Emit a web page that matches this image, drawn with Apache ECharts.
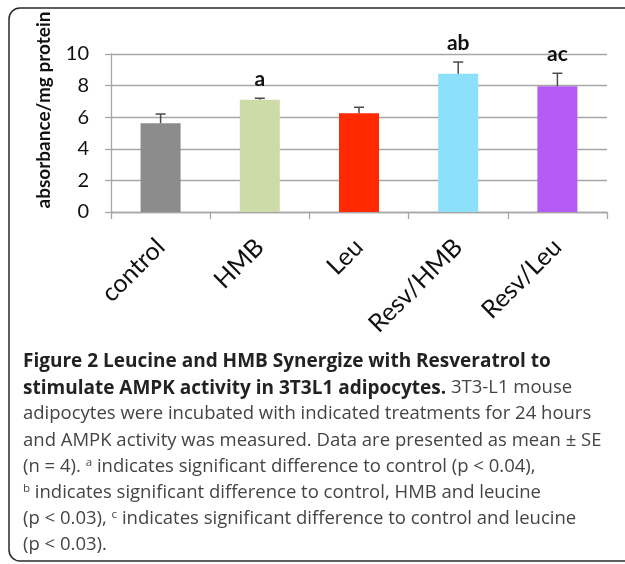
<!DOCTYPE html>
<html>
<head>
<meta charset="utf-8">
<script src="https://cdn.jsdelivr.net/npm/echarts@6/dist/echarts.min.js"></script>
<style>
html,body{margin:0;padding:0;background:#fff;}
#chart{width:625px;height:564px;}
</style>
</head>
<body>
<div id="chart"></div>
<script>
// ---- data ----
const categories = ['control', 'HMB', 'Leu', 'Resv/HMB', 'Resv/Leu'];
const means = [5.62, 7.1, 6.25, 8.75, 7.96];
const errors = [0.58, 0.1, 0.38, 0.74, 0.82];
const sigLabels = ['', 'a', '', 'ab', 'ac'];
const barColors = ['#8c8c8c', '#cddba8', '#ff2a00', '#8ce0fa', '#b35bf2'];
const yTicks = { min: 0, max: 10, interval: 2 };

const FONT = 'Lato';
const CAP_FONT = 'Open Sans';
const chart = echarts.init(document.getElementById('chart'));

const captionLines = [
  '{b|Figure 2 Leucine and HMB Synergize with Resveratrol to}',
  '{b|stimulate AMPK activity in 3T3L1 adipocytes.} 3T3-L1 mouse',
  'adipocytes were incubated with indicated treatments for 24 hours',
  'and AMPK activity was measured. Data are presented as mean ± SE',
  '(n = 4). {sup|a} indicates significant difference to control (p < 0.04),',
  '{sup|b} indicates significant difference to control, HMB and leucine',
  '(p < 0.03), {sup|c} indicates significant difference to control and leucine',
  '(p < 0.03).'
];

const graphics = [
  {
    type: 'rect', silent: true,
    shape: { x: 9, y: 8, width: 660, height: 553, r: 11 },
    style: { fill: 'none', stroke: '#2a2a2a', lineWidth: 1.5 }
  },
  {
    type: 'text', silent: true,
    x: 44, y: 110, rotation: Math.PI / 2,
    style: {
      text: 'absorbance/mg protein', fontFamily: FONT, fontWeight: 'bold',
      fontSize: 19, fill: '#111', align: 'center', verticalAlign: 'middle'
    }
  }
];
captionLines.forEach((t, i) => {
  graphics.push({
    type: 'text', silent: true,
    x: 23, y: 362 + i * 26.1,
    style: {
      text: t, fontFamily: CAP_FONT, fontSize: 18.5, fill: '#444',
      align: 'left', verticalAlign: 'middle',
      rich: {
        b: { fontFamily: CAP_FONT, fontSize: 19, fontWeight: 'bold', fill: '#222' },
        sup: { fontFamily: CAP_FONT, fontSize: 11.5, fill: '#444', verticalAlign: 'top', padding: [0, 0, 8, 0] }
      }
    }
  });
});

const option = {
  animation: false,
  backgroundColor: '#fff',
  grid: { left: 111, right: 18, top: 54, bottom: 352, containLabel: false },
  xAxis: {
    type: 'category',
    data: categories,
    axisLine: { show: true, lineStyle: { color: '#a6a6a6', width: 1.3 } },
    axisTick: { show: true, length: 7, lineStyle: { color: '#a6a6a6', width: 1.3 } },
    axisLabel: { rotate: 45, fontSize: 25, fontFamily: FONT, color: '#111', margin: 31, interval: 0 }
  },
  yAxis: {
    type: 'value',
    min: yTicks.min, max: yTicks.max, interval: yTicks.interval,
    axisLine: { show: true, lineStyle: { color: '#a6a6a6', width: 1.3 } },
    axisTick: { show: true, length: 6, lineStyle: { color: '#a6a6a6', width: 1.3 } },
    splitLine: { show: true, lineStyle: { color: '#a6a6a6', width: 1.3 } },
    axisLabel: { fontSize: 20, fontFamily: FONT, color: '#111', margin: 22 }
  },
  series: [
    {
      type: 'bar',
      barWidth: 40,
      data: means.map((v, i) => ({ value: v, itemStyle: { color: barColors[i] } })),
      z: 2
    },
    {
      type: 'custom',
      clip: false,
      z: 3,
      data: categories.map((c, i) => [i, means[i], errors[i]]),
      renderItem: function (params, api) {
        const x = api.value(0), m = api.value(1), e = api.value(2);
        const p0 = api.coord([x, m]);
        const p1 = api.coord([x, m + e]);
        const cap = 5;
        const lineStyle = { stroke: '#4a4a4a', lineWidth: 1.5 };
        const children = [
          { type: 'line', shape: { x1: p0[0], y1: p0[1], x2: p1[0], y2: p1[1] }, style: lineStyle },
          { type: 'line', shape: { x1: p1[0] - cap, y1: p1[1], x2: p1[0] + cap, y2: p1[1] }, style: lineStyle }
        ];
        const lab = sigLabels[params.dataIndex];
        if (lab) {
          children.push({
            type: 'text',
            x: p1[0], y: p1[1] - 19,
            style: {
              text: lab, fontFamily: FONT, fontWeight: 'bold', fontSize: 21,
              fill: '#111', align: 'center', verticalAlign: 'middle'
            }
          });
        }
        return { type: 'group', children: children };
      }
    }
  ],
  graphic: graphics
};
chart.setOption(option);
</script>
</body>
</html>
